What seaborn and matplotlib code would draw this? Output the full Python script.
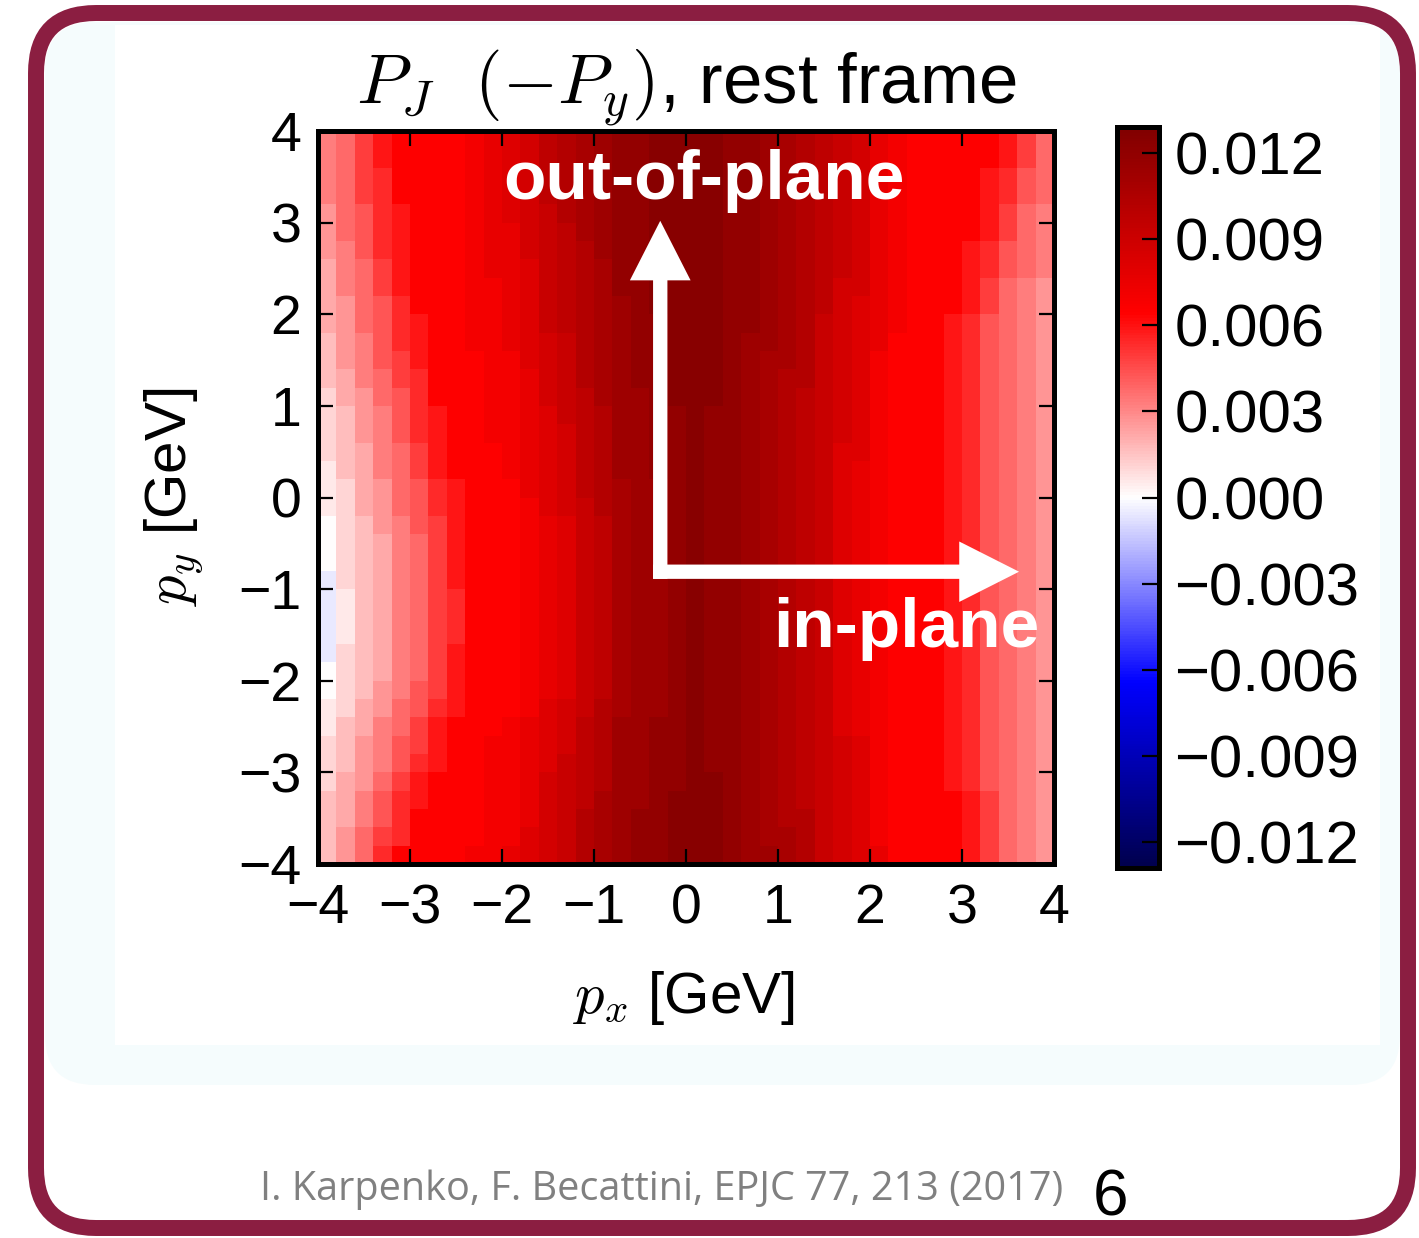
import numpy as np
import pandas as pd
import matplotlib
matplotlib.use("Agg")
import matplotlib.pyplot as plt
import seaborn as sns
from matplotlib.patches import FancyArrow, FancyBboxPatch

# ---------------- data ----------------
px_ticks = [-4, -3, -2, -1, 0, 1, 2, 3, 4]
py_ticks = [4, 3, 2, 1, 0, -1, -2, -3, -4]
cbar_ticks = [-0.012, -0.009, -0.006, -0.003, 0.0, 0.003, 0.006, 0.009, 0.012]
color_limit = 0.0129

# cell values, coded in steps of level_step:
# '0' = -1 step, '1' = 0, '2' = 1 step, ... 'P' = 24 steps
level_codes = "0123456789ABCDEFGHIJKLMNOP"
level_step = 0.00054
# rows from py = +3.9 (top) down to py = -3.9; columns px = -3.9 ... +3.9
cell_rows = [
    "78ACDDDDEFGHJKLMNNOOOONNMLKJIHFEDDDDDCA8",
    "78ACDDDDEFGHJKLMNNOOOONNMLKJIHFEDDDDDCA8",
    "78ABDDDDEFGHJKLMNNOOOONNMLKJIHFEDDDDCB98",
    "78ABDDDDEFGHJKLMNNOOOONNMLKJIHFEDDDDCB98",
    "689BCDDDEFGHIKLMNNOOOONNMLKJIHFEDDDDCA87",
    "689BCDDDEFFHIJLMNNOOOONNMLKJIHFEDDDDCA87",
    "679BCDDDEFFHIJKMNNOOOONNMLKJIHFEDDDCB987",
    "578ACDDDEFFGIJKLNNOOOONNMLKJIHFEDDDCB987",
    "578ACDDDEEFGIJKLNNOOOONNMLKJHHFEDDDCA876",
    "5689BDDDEEFGIJKLMNOOOONNMLKJHGFEDDDCA876",
    "5689BCDDEEFGIJKLMNNOOONNMLKIHGFEDDCB9876",
    "4679BCDDEEFGHIKLMNNOOONMMLKIHGFDDDCB9876",
    "4679ACDDDEEGHIKLMNNOOONMLLKIHGEDDDCB9876",
    "4578ABDDDEEFHIKLMNNOOONMLKKIHGEDDDCB9876",
    "35689BDDDEEFHIJLMMNOOONMLKJIHGEDDDCB9876",
    "34679BCDDEEFGIJKMMNNONNMLKJIHGEDDDCB9876",
    "34679BCDDEEFGHJKMMNNONNMLKJIHGEDDDCB9876",
    "34578ACDDDEFGHJKMMNNONNMLKJIGGEDDDCB9876",
    "24578ACDDDEFGHJKMMNNONNMLKJIGFEDDDCB9876",
    "235689BCDDDFGHJKLMMNONNMLKJIGFEDDDCB9876",
    "235689BCDDDEGHIKLMMNONNMLKJIGFEDDDCB9876",
    "134679ACDDDEFGIJLMMNONNMLKJIGFEDDDCB9876",
    "134578ACDDDEFGIJLMMNONNMLKJIGFEDDDCB9876",
    "134578ACDDDEFGIJLMMNONNMLKJIGFEDDDCB9876",
    "034578ACDDDEFGIJLMMNONNMLKJIGFEDDDCB9876",
    "024578ABDDDEFGIJLMMNONNMLKJIGFEDDDCB9876",
    "024578ABDDDEFGIJLMMNONNMLKJIGFEDDDCB9876",
    "024578ABDDDEFGIJLMMNONNMLKJIGFEDDDCB9876",
    "034578ACDDDEFGIJLMMNONNMLKJIGFEDDDCB9876",
    "134578ACDDDEFGIJLMMNONNMLKJIGFEDDDCB9876",
    "134679ACDDDEFGIJLMMNONNMLKJIGFEDDDCB9876",
    "235689BCDDDEGHIKLMMNONNMLKJIGFEDDDCB9876",
    "24578ACDDDEFGHJKMMNNONNMLKJIGFEDDDCB9876",
    "34679ACDDEEFGHJKMMNNONNMLKJIHGEDDDCB9876",
    "34679BCDDEEFGIJKMMNNONNMLKJIHGEDDDCB9876",
    "3568ACDDDEEFHIJKMMNNOONMLKJIHGEDDDCB9876",
    "4579BCDDDEEFHIJLMMNOOONMLKJIHGEDDDDCA876",
    "4579BDDDDEEFHIKLMNNOOONMLKKIHGEDDDDCA876",
    "468ABDDDDEEGHIKLMNNOOONMLLKIHGEDDDDCA876",
    "468BDDDDEEFGHIKLMNNOOONMMLKIHGFDDDDCA876",
]
n_cells = 40
for i, r in enumerate(cell_rows):
    if len(r) != n_cells:
        raise ValueError(f"row {i} has {len(r)} cells")

# annotation positions in GeV
out_label_pos = (0.20, 3.45)
in_label_pos = (2.39, -1.44)
arrow_corner = (-0.28, -0.81)
arrow_up_tip_py = 3.02
arrow_right_tip_px = 3.62

# ---------------- figure ----------------
W, H = 1419, 1238
plt.rcParams["font.family"] = ["Liberation Sans", "DejaVu Sans"]
plt.rcParams["mathtext.fontset"] = "cm"
plt.rcParams["axes.unicode_minus"] = True

fig = plt.figure(figsize=(W / 100, H / 100), dpi=100)
fig.patch.set_facecolor("white")

# slide decoration
fig.patches.append(FancyBboxPatch((0.45, 1.53), 13.55, 10.63,
                                  boxstyle="round,pad=0,rounding_size=0.5",
                                  transform=fig.dpi_scale_trans, facecolor="#f5fcfd",
                                  edgecolor="none", zorder=-3))
fig.patches.append(FancyBboxPatch((1.15, 1.93), 12.65, 10.2,
                                  boxstyle="square,pad=0",
                                  transform=fig.dpi_scale_trans, facecolor="white",
                                  edgecolor="none", zorder=-2))
fig.patches.append(FancyBboxPatch((0.36, 0.10), 13.72, 12.15,
                                  boxstyle="round,pad=0,rounding_size=0.6",
                                  transform=fig.dpi_scale_trans, fill=False,
                                  edgecolor="#8b1e41", linewidth=11.5, zorder=-1))

ax = fig.add_axes([318 / W, 1 - 864 / H, 736 / W, 733 / H])
cax = fig.add_axes([1117 / W, 1 - 868 / H, 42 / W, 741 / H])

values = np.array([[(level_codes.index(ch) - 1) * level_step for ch in row]
                   for row in cell_rows])
px_centers = np.round(np.linspace(-3.9, 3.9, n_cells), 2)
py_centers = px_centers[::-1]
df = pd.DataFrame(values, index=py_centers, columns=px_centers)

sns.heatmap(df, ax=ax, cbar_ax=cax, cmap="seismic", vmin=-color_limit, vmax=color_limit,
            xticklabels=False, yticklabels=False, linewidths=0)


def to_col(px):
    return (px + 4) * n_cells / 8


def to_row(py):
    return (4 - py) * n_cells / 8


def fmt(v):
    return str(v).replace("-", "\u2212")


ax.set_xticks([to_col(v) for v in px_ticks])
ax.set_xticklabels([fmt(v) for v in px_ticks])
ax.set_yticks([to_row(v) for v in py_ticks])
ax.set_yticklabels([fmt(v) for v in py_ticks], rotation=0)
ax.tick_params(axis="both", direction="in", length=11, width=1.6, top=True, right=True,
               labelsize=40, pad=12, colors="black")
ax.tick_params(axis="x", pad=14)
ax.set_xlabel("")
ax.set_ylabel("")
for s in ax.spines.values():
    s.set_visible(True)
    s.set_linewidth(3.6)
    s.set_color("black")

cb = ax.collections[0].colorbar
cb.set_ticks(cbar_ticks)
cb.set_ticklabels(["\u22120.%03d" % round(-t * 1000) if t < 0 else "%.3f" % t for t in cbar_ticks])
cb.outline.set_linewidth(3.6)
cb.outline.set_edgecolor("black")
cax.tick_params(direction="in", length=12, width=1.6, labelsize=43, pad=11,
                right=True, left=False, colors="black")

# arrows
shaft = 0.78
head_w = 3.3
head_l = 3.25
cx, cy = to_col(arrow_corner[0]), to_row(arrow_corner[1])
ax.add_patch(FancyArrow(cx, cy + shaft / 2, 0, to_row(arrow_up_tip_py) - cy - shaft / 2,
                        width=shaft, head_width=head_w, head_length=head_l,
                        length_includes_head=True, color="white", lw=0, zorder=5))
ax.add_patch(FancyArrow(cx - shaft / 2, cy, to_col(arrow_right_tip_px) - cx + shaft / 2, 0,
                        width=shaft, head_width=head_w, head_length=head_l,
                        length_includes_head=True, color="white", lw=0, zorder=5))

ax.text(to_col(out_label_pos[0]), to_row(out_label_pos[1]), "out-of-plane", color="white",
        fontsize=50, fontweight="bold", ha="center", va="center", zorder=6)
ax.text(to_col(in_label_pos[0]), to_row(in_label_pos[1]), "in-plane", color="white",
        fontsize=50, fontweight="bold", ha="center", va="center", zorder=6)

# title and axis labels
fig.text(686 / W, 1 - 103 / H, r"$P_J\ \ (-P_y)$, rest frame", ha="center",
         va="baseline", fontsize=51)
fig.text(684 / W, 1 - 1013 / H, r"$p_x$ [GeV]", ha="center", va="baseline", fontsize=42)
fig.text(174 / W, 1 - 497 / H, r"$p_y$ [GeV]", ha="center", va="center", fontsize=42,
         rotation=90)

# footer
fig.text(260 / W, 1 - 1200 / H, "I. Karpenko, F. Becattini, EPJC 77, 213 (2017)",
         ha="left", va="baseline", fontsize=28.5, color="#808080",
         family=["Open Sans", "DejaVu Sans"])
fig.text(1093 / W, 1 - 1216 / H, "6", ha="left", va="baseline", fontsize=46,
         color="black", family=["Liberation Sans", "DejaVu Sans"], fontweight="normal")

fig.savefig("out.png", dpi=100)
